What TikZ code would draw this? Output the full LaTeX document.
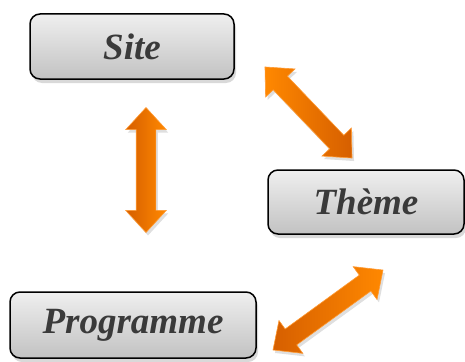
\documentclass[tikz,border=0pt]{standalone}
\usepackage{fontspec}
\setmainfont{Liberation Serif}
\usetikzlibrary{shapes.arrows, shadows, positioning}
\definecolor{boxtop}{HTML}{EFEFEF}
\definecolor{boxbottom}{HTML}{C2C2C2}
\definecolor{textgray}{HTML}{3A3A3A}
\definecolor{arrowlight}{HTML}{FF8800}
\definecolor{arrowdark}{HTML}{D65F00}
\definecolor{arrowrim}{HTML}{FF9B35}
\tikzset{
    entity/.style = {rectangle, draw=black, line width=1.5pt, rounded corners=10pt, top color=boxtop, bottom color=boxbottom, text=textgray, inner sep=0pt, font=\fontsize{37}{40}\selectfont\bfseries\itshape, drop shadow={shadow xshift=2pt, shadow yshift=-4pt, opacity=.3}},
    link/.style = {double arrow, draw=arrowrim, line width=.6pt, inner xsep=0pt, inner ysep=9.5pt, minimum width=0pt, double arrow head extend=10.5pt, double arrow tip angle=85, drop shadow={shadow xshift=2pt, shadow yshift=-3pt, opacity=.25}}
}

\begin{document}
\begin{tikzpicture}[x=1pt, y=1pt]
        \useasboundingbox (0,0) rectangle (465,-361);

        % Boxes
        \node [entity, minimum width=204pt, minimum height=65pt] (site) at (132,-46.5) {Site};
        \node [entity, minimum width=196pt, minimum height=64pt] (theme) at (366,-202) {Thème};
        \node [entity, minimum width=246pt, minimum height=66pt] (prog) at (133,-325) {Programme};

        % Arrows
        \node [link, minimum height=125pt, rotate=90, left color=arrowdark, right color=arrowlight] (siteprog) at (146,-170) {};
        \node [link, minimum height=126pt, rotate=-46.3, left color=arrowlight, right color=arrowdark] (sitetheme) at (308.5,-112.5) {};
        \node [link, minimum height=136pt, rotate=36, left color=arrowdark, right color=arrowlight] (themeprog) at (328,-310) {};

    \end{tikzpicture}
\end{document}
